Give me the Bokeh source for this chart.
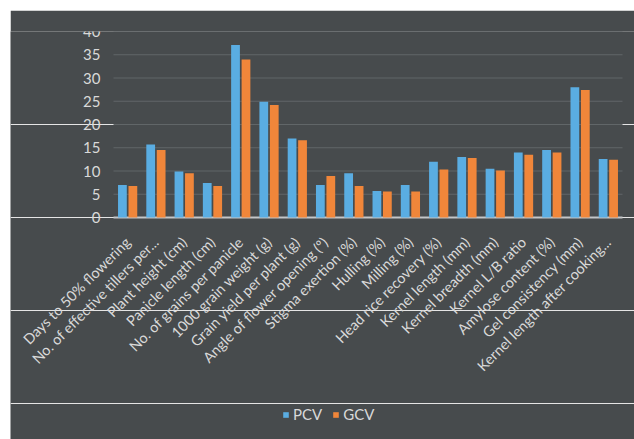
import math
from bokeh.plotting import figure
from bokeh.models import Legend, LegendItem, ColumnDataSource, FixedTicker, Range1d
from bokeh.core.properties import value
from bokeh.transform import dodge
from bokeh.embed import file_html
from bokeh.resources import INLINE

traits = [
    "Days to 50% flowering",
    "No. of effective tillers per...",
    "Plant height (cm)",
    "Panicle length (cm)",
    "No. of grains per panicle",
    "1000 grain weight (g)",
    "Grain yield per plant (g)",
    "Angle of flower opening (º)",
    "Stigma exertion (%)",
    "Hulling (%)",
    "Milling (%)",
    "Head rice recovery (%)",
    "Kernel length (mm)",
    "Kernel breadth (mm)",
    "Kernel L/B ratio",
    "Amylose content (%)",
    "Gel consistency (mm)",
    "Kernel length after cooking...",
]
pcv = [7.0, 15.7, 9.9, 7.4, 37.1, 24.9, 17.0, 7.0, 9.5, 5.7, 7.0, 12.0, 13.0, 10.5, 14.0, 14.5, 28.0, 12.6]
gcv = [6.8, 14.5, 9.5, 6.8, 34.0, 24.2, 16.6, 8.9, 6.8, 5.6, 5.6, 10.3, 12.8, 10.1, 13.5, 14.0, 27.4, 12.4]
y_ticks = [0, 5, 10, 15, 20, 25, 30, 35, 40]

BG = "#474b4d"
BLUE = "#5aade2"
ORANGE = "#f0863a"
TXT = "#d9d9d9"
GRID = "#616668"
BASE = "#c4c6c8"
FONT = "Lato"

n = len(traits)
xs = [i + 0.5 for i in range(n)]          # category centres
src = ColumnDataSource(dict(x=xs, trait=traits, pcv=pcv, gcv=gcv))

# layout: categories span 509 px; 103 px of room on the left, 12 px on the right;
# 40 units of y span 186 px, the frame reaches down to the legend
PX_PER_CAT = 509 / n
X_START = -103 / PX_PER_CAT
X_END = n + 12 / PX_PER_CAT
Y_TOP = 40
Y_BOTTOM = Y_TOP - 408 * 40 / 186

p = figure(x_range=Range1d(X_START, X_END), y_range=Range1d(Y_BOTTOM, Y_TOP),
           frame_width=624, frame_height=408, output_backend="svg", toolbar_location=None,
           y_axis_location=None,
           min_border_left=0, min_border_right=0, min_border_top=21, min_border_bottom=0)
p.margin = (10, 0, 0, 10)
p.background_fill_color = BG
p.border_fill_color = BG
p.outline_line_color = None
p.xgrid.grid_line_color = None

# gridlines and baseline from the tick list
p.segment(x0=[0] * (len(y_ticks) - 1), x1=[n] * (len(y_ticks) - 1),
          y0=y_ticks[1:], y1=y_ticks[1:], line_color=GRID, line_width=1)
p.segment(x0=[0], x1=[n], y0=y_ticks[:1], y1=y_ticks[:1], line_color=BASE, line_width=2)

r1 = p.vbar(x=dodge("x", -0.185), top="pcv", bottom=0, width=0.31, source=src,
            fill_color=BLUE, line_color=None)
r2 = p.vbar(x=dodge("x", 0.185), top="gcv", bottom=0, width=0.31, source=src,
            fill_color=ORANGE, line_color=None)

# y tick labels
p.text(x=[-13 / PX_PER_CAT] * len(y_ticks), y=y_ticks, text=[str(t) for t in y_ticks],
       text_align="right", text_baseline="middle", text_color=TXT,
       text_font=value(FONT), text_font_size=value("15px"))

p.xaxis.fixed_location = 0
p.xaxis.ticker = FixedTicker(ticks=xs)
p.xaxis.major_label_overrides = {x: t for x, t in zip(xs, traits)}
p.xaxis.axis_line_color = None
p.xaxis.major_tick_line_color = None
p.xaxis.minor_tick_line_color = None
p.xaxis.major_label_orientation = math.pi / 4
p.xaxis.major_label_text_color = TXT
p.xaxis.major_label_text_font = FONT
p.xaxis.major_label_text_font_size = "14.5px"
p.xaxis.major_label_standoff = 16

legend = Legend(items=[LegendItem(label="PCV", renderers=[r1]),
                       LegendItem(label="GCV", renderers=[r2])],
                orientation="horizontal", location=(272, 16))
legend.background_fill_alpha = 0
legend.border_line_color = None
legend.padding = 0
legend.margin = 0
legend.glyph_width = 7
legend.glyph_height = 7
legend.label_standoff = 4
legend.spacing = 10
legend.label_text_color = TXT
legend.label_text_font = FONT
legend.label_text_font_size = "15px"
p.add_layout(legend, "center")

open("out.html", "w").write(file_html(p, INLINE))
